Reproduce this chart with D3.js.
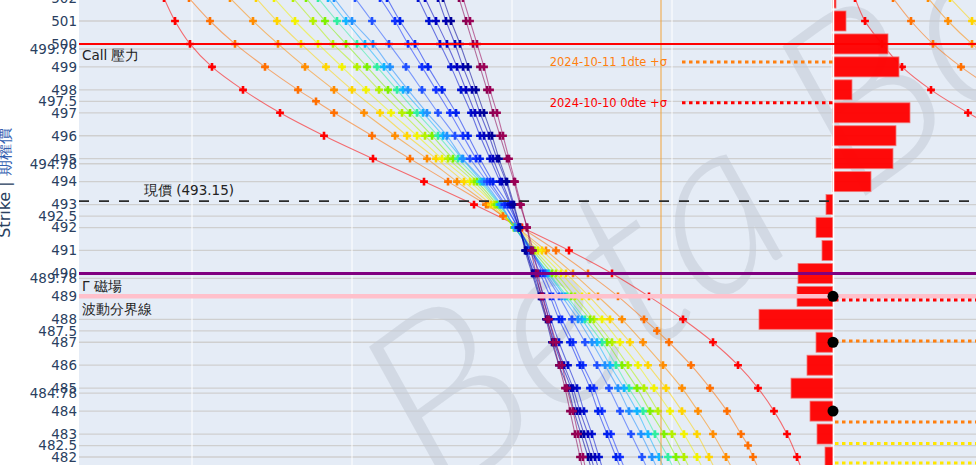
<!DOCTYPE html>
<html><head><meta charset="utf-8">
<script src="https://cdn.jsdelivr.net/npm/d3@7"></script>
<style>
html,body{margin:0;padding:0;background:#fff;}
svg{display:block;font-family:"DejaVu Sans",Verdana,sans-serif;}
</style>
</head><body>
<svg id="chart" width="976" height="465"></svg>
<script>
// ---------------- data ----------------
const strikes = [502,501,500,499,498,497,496,495,494,493,492,491,490,489,488,487,486,485,484,483,482,481];

// curve values (theoretical position units, 0 = crossing column)
const red     = [-348,-337,-322,-300,-269,-232,-188,-139,-88,-38,10,57,100,137,171,201,226,246,262,275,285,293];
const orange1 = [-323,-302,-277,-247,-214,-178,-140,-102,-64,-26,9,44,76,106,132,157,179,198,215,229,241,252];
const halfStrikes = [497.5,492.5,487.5,482.5];
const orange1Half = [-196,-9,145,236];
const orange2 = [-282,-259,-234,-207,-178,-148,-117,-85,-55,-24,5,34,61,86,110,131,151,170,186,201,214,226];
const yellow1 = [-256,-235,-211,-186,-160,-132,-105,-76,-48,-21,4,30,54,77,98,118,136,154,170,185,197,208];
const yellow2 = [-238,-217,-194,-170,-146,-121,-95,-70,-42,-18,3,26,49,70,90,108,126,142,158,172,185,196];
const green1  = [-219,-199,-179,-155,-133,-110,-87,-64,-38,-17,2,23,44,63,82,100,116,132,146,160,172,183];
const green2  = [-206,-187,-166,-145,-124,-102,-80,-59,-35,-15,2,21,40,59,78,95,110,125,138,152,164,175];
const teal    = [-194,-175,-155,-135,-115,-95,-74,-54,-32,-13,3,19,37,55,73,90,104,117,131,143,156,167];
const sky1    = [-184,-166,-147,-128,-109,-89,-69,-50,-30,-12,3,19,36,53,70,85,98,112,125,136,147,157];
const sky2    = [-178,-160,-139,-122,-104,-85,-65,-49,-28,-11,3,18,34,50,66,80,93,106,117,129,140,150];
const blue1   = [-157,-140,-123,-106,-90,-74,-57,-42,-25,-8,6,20,33,47,60,73,85,97,108,119,130,140];
const blue2   = [-132,-117,-104,-90,-76,-62,-49,-36,-22,-7,6,19,31,41,50,61,71,82,90,99,108,117];
const blue3   = [-125,-112,-97,-84,-70,-56,-44,-32,-19,-4,7,18,28,38,47,58,68,78,86,95,104,113];
const blue4   = [-94,-83,-72,-61,-51,-41,-32,-22,-12,-2,7,15,24,32,39,47,56,65,72,80,87,94];
const blue5   = [-87,-76,-65,-55,-46,-37,-28,-19,-10,-1,7,14,22,30,37,43,52,61,68,76,83,90];
const blue6   = [-74,-66,-57,-49,-40,-32,-23,-15,-6,1,8,14,21,28,35,42,50,59,65,72,79,85];
const blue7   = [-69,-61,-52,-44,-36,-28,-20,-13,-5,2,8,13,20,27,34,40,47,56,62,69,76,82];
const maroon1 = [-53,-46,-39,-32,-25,-19,-12,-5,2,8,15,19,24,29,35,41,47,53,58,63,68,73];
const maroon2 = [-49,-42,-35,-28,-22,-15,-9,-3,3,9,15,21,26,31,37,44,50,55,61,66,71,76];

const curveColors = ['#ff0000','#ff6f00','#ff8c00','#ffd400','#f2f200','#b4f000','#7ff000','#30eea0',
                     '#10b4ff','#2090ff','#2050ff','#1030ff','#0020ee','#0010d0','#0000c0','#0000b0','#000098','#8b0050','#9a0055'];

// upper-right curve group (strikes 502 downward)
const rightStrikes = [502,501,500,499,498,497,496];
const redR     = [343,353,370,390,419,456,498];
const orangeRa = [381,399,421,449,483];
const orangeRb = [416,436,460,488];
const yellowR  = [438,460,484];

// bars (net exposure per strike)
const barStrikes = [502,501,500,499,498,497,496,495,494,493,492,491,490,489,488,487,486,485,484,483,482,481];
const barValues  = [3,13,55,66,19,77,63,60,38,-7,-17,-11,-35,-36,-74,-17,-26,-42,-23,-16,-8,-5];

// y ticks
const yTickValues = [502,501,500,499.78,499,498,497.5,497,496,495,494.78,494,493,492.5,492,491,490,489.78,489,488,487.5,487,486,485,484.78,484,483,482.5,482];
const yTickLabels = ['502','501','500','499.78','499','498','497.5','497','496','495','494.78','494','493','492.5','492','491','490','489.78','489','488','487.5','487','486','485','484.78','484','483','482.5','482'];
const xGridValues = [-320,-160,0,160,320];

// levels
const callLevel = 500, gammaLevel = 490, volLevel = 489, spotPrice = 493.15;
const spotColumn = 149;
const sigmaUpLabels  = ['2024-10-11 1dte +σ','2024-10-10 0dte +σ'];
const sigmaUpStrikes = [499.21, 497.44];
const sigmaUpColors  = ['#ff7f0e','#ff0000'];
const sigmaUpStart   = 170;
const sigmaDownStrikes = [488.84, 487.05, 483.52, 482.59, 481.74];
const sigmaDownColors  = ['#ff0000','#ff7f0e','#ff7f0e','#ffe600','#ffe600'];
const dotStrikes = [489, 487, 484];

// ---------------- drawing ----------------
const W = 976, H = 465, L = 79;
const svg = d3.select('#chart');
const y  = d3.scaleLinear().domain([501, 482]).range([21, 457]);
const x  = d3.scaleLinear().domain([-433, 464]).range([L, W]);
const xb = d3.scaleLinear().domain([-754, 143]).range([L, W]);

svg.append('rect').attr('x',0).attr('y',0).attr('width',W).attr('height',H).attr('fill','#fff');
svg.append('rect').attr('x',L).attr('y',0).attr('width',W-L).attr('height',H).attr('fill','#e5ecf6');

svg.append('defs').append('clipPath').attr('id','clip')
  .append('rect').attr('x',L).attr('y',0).attr('width',W-L).attr('height',H);

const plot = svg.append('g').attr('clip-path','url(#clip)');

// grid
plot.append('g').selectAll('line').data(yTickValues).join('line')
  .attr('x1',L).attr('x2',W).attr('y1',d=>y(d)).attr('y2',d=>y(d))
  .attr('stroke','#cfcfcf').attr('stroke-width',1.3);
plot.append('g').selectAll('line').data(xGridValues).join('line')
  .attr('x1',d=>x(d)).attr('x2',d=>x(d)).attr('y1',0).attr('y2',H)
  .attr('stroke','#ffffff').attr('stroke-width',1);

// watermark (script-like)
plot.append('text')
  .attr('transform','translate(440,505) rotate(-36)')
  .attr('font-family','Lato, "Open Sans", sans-serif').attr('font-style','italic').attr('font-weight',300)
  .attr('font-size',240).attr('fill','#c3cad6').attr('fill-opacity',0.55)
  .text('Beta Bo');

// curves
const seriesList = [red,orange1,orange2,yellow1,yellow2,green1,green2,teal,sky1,sky2,
                    blue1,blue2,blue3,blue4,blue5,blue6,blue7,maroon1,maroon2];
const curves = seriesList.map((vals,i)=>{
  let pts = strikes.map((s,j)=>({s, v:vals[j]}));
  if (i===1) {
    pts = pts.concat(halfStrikes.map((s,j)=>({s, v:orange1Half[j]})));
    pts.sort((a,b)=>b.s-a.s);
  }
  return {color: curveColors[i], pts};
});
const rightCurves = [
  {color:'#ff0000', pts: redR.map((v,j)=>({s:rightStrikes[j], v}))},
  {color:'#ff6f00', pts: orangeRa.map((v,j)=>({s:rightStrikes[j], v}))},
  {color:'#ff8c00', pts: orangeRb.map((v,j)=>({s:rightStrikes[j], v}))},
  {color:'#ffd400', pts: yellowR.map((v,j)=>({s:rightStrikes[j], v}))}
];
const allCurves = curves.concat(rightCurves);

const line = d3.line().x(d=>x(d.v)).y(d=>y(d.s)).curve(d3.curveCatmullRom.alpha(0.5));
const cg = plot.append('g');
cg.selectAll('path.ln').data(allCurves).join('path').attr('class','ln')
  .attr('d',d=>line(d.pts)).attr('fill','none')
  .attr('stroke',d=>d.color).attr('stroke-width',1.1).attr('stroke-opacity',0.55);
const sym = d3.symbol(d3.symbolCross, 34);
allCurves.forEach(c=>{
  cg.append('g').selectAll('path').data(c.pts).join('path')
    .attr('d',sym).attr('transform',d=>`translate(${x(d.v)},${y(d.s)})`)
    .attr('fill',c.color);
});

// bars
plot.append('g').selectAll('rect').data(barStrikes.map((s,i)=>({s, v:barValues[i]}))).join('rect')
  .attr('x',d=>Math.min(xb(0), xb(d.v))).attr('width',d=>Math.abs(xb(d.v)-xb(0)))
  .attr('y',d=>y(d.s)-10).attr('height',20)
  .attr('fill','#ff0000').attr('fill-opacity',0.96)
  .attr('stroke','#f07a7a').attr('stroke-width',0.8);
plot.append('line').attr('x1',xb(0)+0.5).attr('x2',xb(0)+0.5).attr('y1',0).attr('y2',H)
  .attr('stroke','#ffffff').attr('stroke-width',1.5);

// spot column vertical line
plot.append('line').attr('x1',x(spotColumn)).attr('x2',x(spotColumn)).attr('y1',0).attr('y2',H)
  .attr('stroke','#f2a33a').attr('stroke-width',1);

// level lines
function hline(v, color, w, dash){
  const l = plot.append('line').attr('x1',L).attr('x2',W).attr('y1',y(v)).attr('y2',y(v))
    .attr('stroke',color).attr('stroke-width',w);
  if (dash) l.attr('stroke-dasharray',dash);
}
hline(callLevel,'#ff0000',2);
hline(gammaLevel,'#800080',3);
hline(volLevel,'#ffc0cb',4.5);
hline(spotPrice,'#2b2b2b',1.6,'10,10');

// sigma lines
sigmaUpStrikes.forEach((s,i)=>{
  plot.append('line').attr('x1',x(sigmaUpStart)).attr('x2',xb(0)).attr('y1',y(s)).attr('y2',y(s))
    .attr('stroke',sigmaUpColors[i]).attr('stroke-width',3).attr('stroke-dasharray','3.5,3.5');
  plot.append('text').attr('x',x(sigmaUpStart)-15).attr('y',y(s)).attr('dy','0.35em')
    .attr('text-anchor','end').attr('font-size',11.5).attr('fill',sigmaUpColors[i])
    .text(sigmaUpLabels[i]);
});
sigmaDownStrikes.forEach((s,i)=>{
  plot.append('line').attr('x1',xb(0)+2).attr('x2',W).attr('y1',y(s)).attr('y2',y(s))
    .attr('stroke',sigmaDownColors[i]).attr('stroke-width',3).attr('stroke-dasharray','3.5,3.5');
});
plot.append('g').selectAll('circle').data(dotStrikes).join('circle')
  .attr('cx',xb(0)).attr('cy',d=>y(d)).attr('r',5.5).attr('fill','#000');

// annotations
const ann = svg.append('g').attr('font-size',13.5).attr('fill','#222');
ann.append('text').attr('x',L+3).attr('y',y(callLevel)+16).text('Call 壓力');
ann.append('text').attr('x',L+3).attr('y',y(gammaLevel)+18).text('Γ 磁場');
ann.append('text').attr('x',L+3).attr('y',y(volLevel)+18).text('波動分界線');
ann.append('text').attr('x',x(-323)).attr('y',y(spotPrice)-6).attr('text-anchor','middle')
  .text(`現價 (${spotPrice})`);

// y axis
const yAxis = d3.axisLeft(y).tickValues(yTickValues).tickSize(0).tickPadding(2)
  .tickFormat((d,i)=>yTickLabels[i]);
const ag = svg.append('g').attr('transform',`translate(${L},0)`).call(yAxis);
ag.select('.domain').remove();
ag.selectAll('text').attr('font-size',13.5).attr('fill','#2a3f5f')
  .attr('font-family','"DejaVu Sans",Verdana,sans-serif');

// y title
const t = svg.append('text').attr('transform','translate(10,183) rotate(-90)')
  .attr('text-anchor','middle').attr('font-size',16).attr('fill','#2a3f5f');
t.append('tspan').text('Strike | ');
t.append('tspan').attr('fill','#3460b0').text('期權價');
</script>
</body></html>
